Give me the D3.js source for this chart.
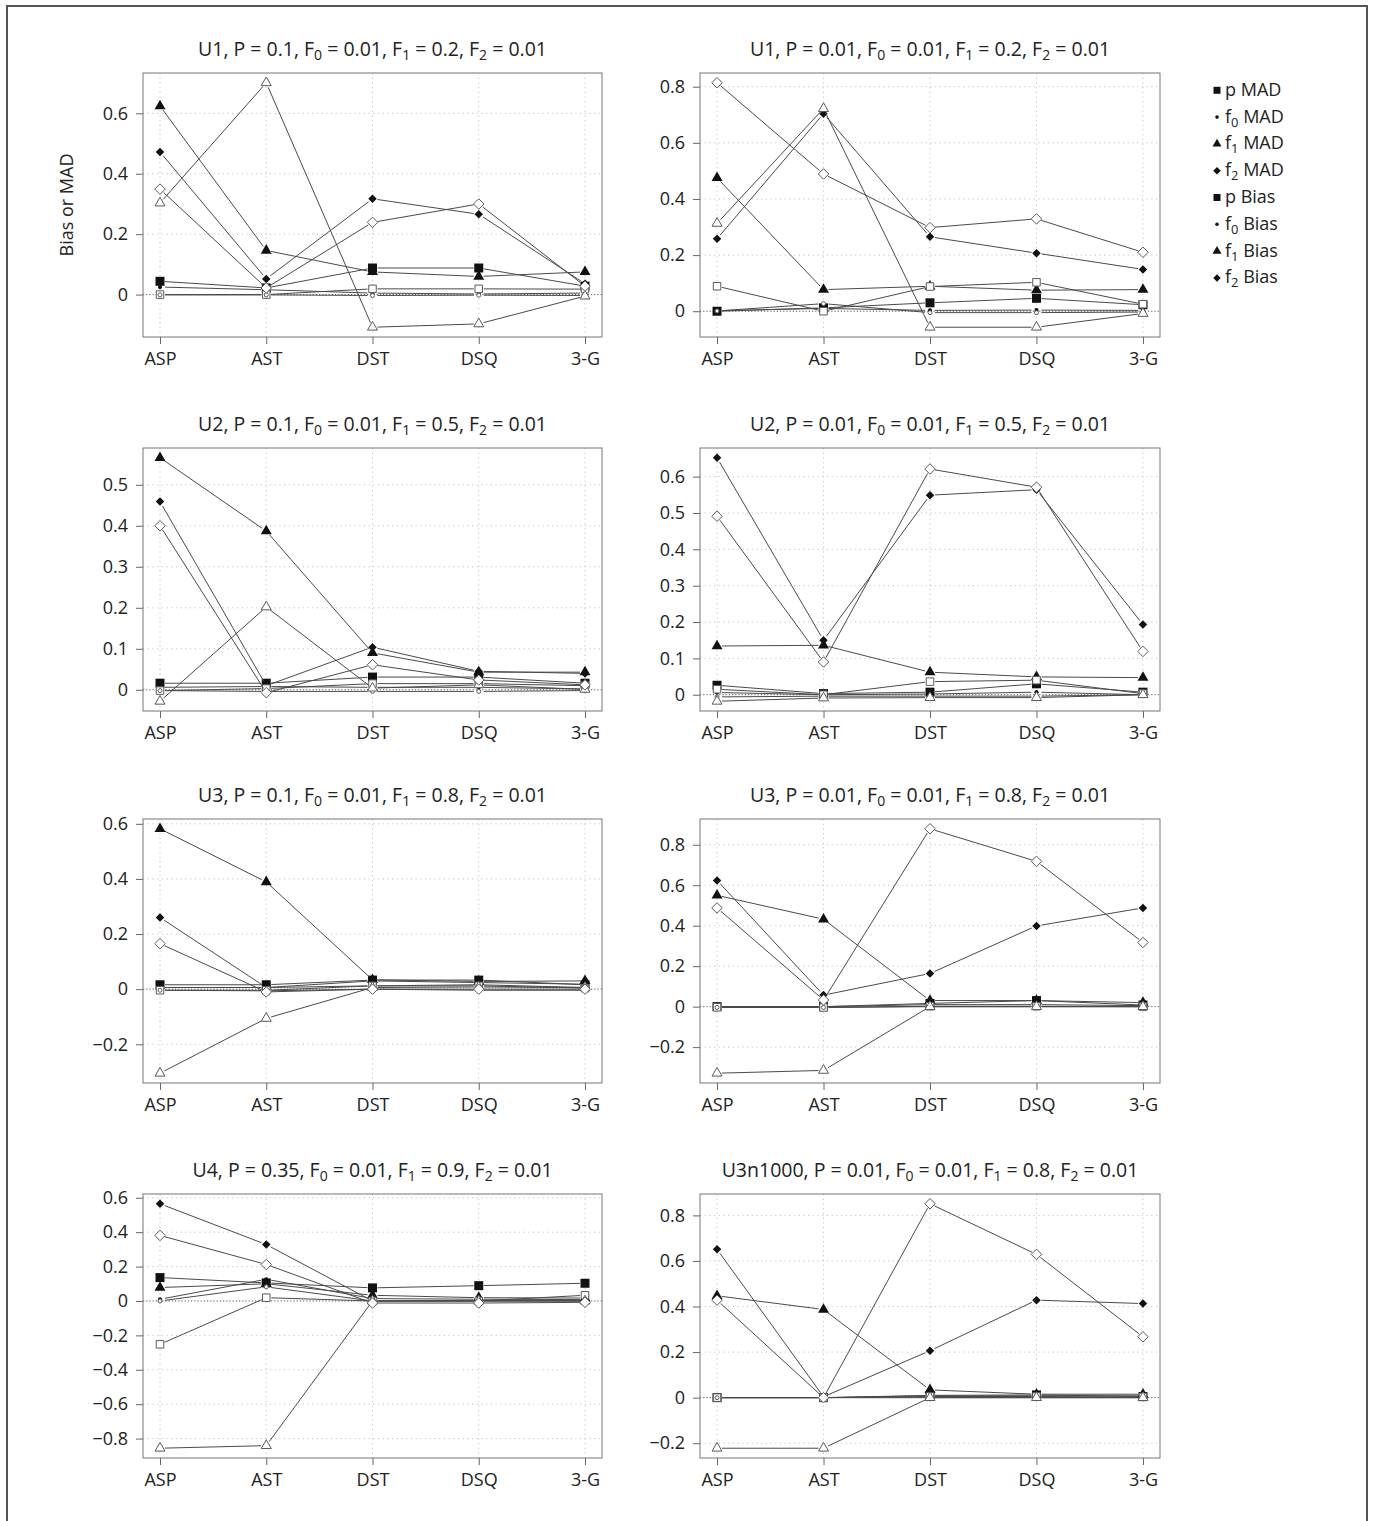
<!DOCTYPE html>
<html><head><meta charset="utf-8">
<script src="https://cdn.jsdelivr.net/npm/d3@7"></script>
<style>
body{margin:0;background:#fff}
text{font-family:"Open Sans",sans-serif;fill:#222}
</style>
</head><body>
<svg id="chart" width="1373" height="1521"></svg>
<script>
// ---------- data ----------
const categories = ["ASP","AST","DST","DSQ","3-G"];
// series order: p MAD, f0 MAD, f1 MAD, f2 MAD, p Bias, f0 Bias, f1 Bias, f2 Bias
const legendBase = ["p","f","f","f","p","f","f","f"];
const legendSub  = ["","0","1","2","","0","1","2"];
const legendTail = ["MAD","MAD","MAD","MAD","Bias","Bias","Bias","Bias"];

const panelModel = ["U1","U1","U2","U2","U3","U3","U4","U3n1000"];
const panelP     = ["0.1","0.01","0.1","0.01","0.1","0.01","0.35","0.01"];
const panelF0    = ["0.01","0.01","0.01","0.01","0.01","0.01","0.01","0.01"];
const panelF1    = ["0.2","0.2","0.5","0.5","0.8","0.8","0.9","0.8"];
const panelF2    = ["0.01","0.01","0.01","0.01","0.01","0.01","0.01","0.01"];

const u1_p010 = [
  [0.044, 0.022, 0.088, 0.088, 0.028],
  [0.025, 0.016, 0.005, 0.002, 0.005],
  [0.624, 0.146, 0.075, 0.060, 0.075],
  [0.472, 0.052, 0.317, 0.266, 0.036],
  [0.000, 0.000, 0.019, 0.019, 0.018],
  [-0.001, -0.001, -0.003, -0.002, -0.003],
  [0.303, 0.701, -0.108, -0.097, -0.005],
  [0.349, 0.022, 0.239, 0.300, 0.028]
];
const u1_p001 = [
  [0.000, 0.012, 0.030, 0.046, 0.023],
  [0.002, 0.010, 0.003, 0.004, 0.003],
  [0.475, 0.077, 0.089, 0.075, 0.077],
  [0.258, 0.704, 0.265, 0.207, 0.149],
  [0.089, 0.000, 0.088, 0.103, 0.025],
  [0.001, 0.027, -0.005, -0.005, -0.003],
  [0.313, 0.722, -0.057, -0.057, -0.008],
  [0.814, 0.489, 0.298, 0.329, 0.210]
];
const u2_p010 = [
  [0.016, 0.016, 0.031, 0.031, 0.016],
  [0.006, 0.008, 0.006, 0.006, 0.002],
  [0.566, 0.387, 0.090, 0.043, 0.043],
  [0.459, 0.010, 0.104, 0.045, 0.040],
  [-0.002, 0.003, 0.015, 0.015, 0.010],
  [-0.002, -0.004, -0.004, -0.004, -0.002],
  [-0.028, 0.202, 0.004, 0.012, 0.001],
  [0.400, -0.007, 0.061, 0.024, 0.012]
];
const u2_p001 = [
  [0.026, 0.003, 0.007, 0.030, 0.007],
  [0.006, 0.000, 0.002, 0.007, 0.000],
  [0.134, 0.136, 0.062, 0.049, 0.047],
  [0.652, 0.150, 0.549, 0.564, 0.193],
  [0.015, 0.000, 0.036, 0.040, 0.003],
  [-0.006, -0.004, -0.004, -0.004, 0.000],
  [-0.018, -0.009, -0.008, -0.008, 0.000],
  [0.491, 0.090, 0.621, 0.571, 0.119]
];
const u3_p010 = [
  [0.016, 0.016, 0.033, 0.033, 0.016],
  [0.006, 0.006, 0.012, 0.016, 0.006],
  [0.582, 0.389, 0.034, 0.028, 0.030],
  [0.260, 0.006, 0.030, 0.024, 0.018],
  [-0.004, -0.004, 0.012, 0.012, 0.004],
  [-0.004, -0.006, 0.000, -0.004, -0.004],
  [-0.305, -0.106, 0.006, 0.008, 0.006],
  [0.165, -0.010, 0.000, 0.000, 0.000]
];
const u3_p001 = [
  [0.000, 0.000, 0.016, 0.030, 0.008],
  [0.000, 0.000, 0.010, 0.010, 0.005],
  [0.550, 0.432, 0.030, 0.030, 0.020],
  [0.624, 0.057, 0.164, 0.399, 0.488],
  [-0.003, -0.004, 0.002, 0.002, 0.000],
  [-0.004, -0.004, 0.000, 0.000, 0.000],
  [-0.329, -0.315, 0.000, 0.000, 0.000],
  [0.488, 0.033, 0.879, 0.718, 0.317]
];
const u4_p035 = [
  [0.136, 0.105, 0.076, 0.089, 0.103],
  [0.010, 0.126, 0.014, 0.010, 0.008],
  [0.078, 0.100, 0.033, 0.019, 0.017],
  [0.565, 0.328, 0.000, 0.002, 0.002],
  [-0.252, 0.019, 0.000, 0.000, 0.033],
  [0.000, 0.082, 0.000, 0.000, 0.000],
  [-0.856, -0.841, 0.000, 0.000, 0.000],
  [0.381, 0.212, -0.012, -0.012, -0.008]
];
const u3n1000_p001 = [
  [0.000, 0.000, 0.010, 0.012, 0.005],
  [0.000, 0.000, 0.008, 0.008, 0.008],
  [0.447, 0.387, 0.034, 0.015, 0.015],
  [0.651, 0.004, 0.206, 0.428, 0.413],
  [0.000, 0.000, 0.005, 0.005, 0.003],
  [0.000, 0.000, 0.000, 0.000, 0.000],
  [-0.222, -0.222, 0.000, 0.000, 0.000],
  [0.428, 0.000, 0.851, 0.629, 0.267]
];

const ticks_u1_p010 = [0, 0.2, 0.4, 0.6];
const ticks_u1_p001 = [0, 0.2, 0.4, 0.6, 0.8];
const ticks_u2_p010 = [0, 0.1, 0.2, 0.3, 0.4, 0.5];
const ticks_u2_p001 = [0, 0.1, 0.2, 0.3, 0.4, 0.5, 0.6];
const ticks_u3_p010 = [-0.2, 0, 0.2, 0.4, 0.6];
const ticks_u3_p001 = [-0.2, 0, 0.2, 0.4, 0.6, 0.8];
const ticks_u4_p035 = [-0.8, -0.6, -0.4, -0.2, 0, 0.2, 0.4, 0.6];
const ticks_u3n1000_p001 = [-0.2, 0, 0.2, 0.4, 0.6, 0.8];

const panelData  = [u1_p010, u1_p001, u2_p010, u2_p001, u3_p010, u3_p001, u4_p035, u3n1000_p001];
const panelTicks = [ticks_u1_p010, ticks_u1_p001, ticks_u2_p010, ticks_u2_p001,
                    ticks_u3_p010, ticks_u3_p001, ticks_u4_p035, ticks_u3n1000_p001];

// ---------- styling / layout ----------
const shapes = ["square","dot","triangle","diamond","square","dot","triangle","diamond"];
const filled = [true,true,true,true,false,false,false,false];
const markSize = {square:[9,7.5], dot:[2.1,2], triangle:[11,10], diamond:[8.5,10.5]};

const colX = [[143,602],[700,1160]];
const rowY = [[73,337],[448,711],[819,1083],[1194,1458]];

const svg = d3.select("#chart");

// outer frame
svg.append("rect").attr("x",7).attr("y",6).attr("width",1360).attr("height",1540)
  .attr("fill","none").attr("stroke","#555").attr("stroke-width",2);

function shapePath(type, s){
  if(type==="square"){const h=s/2;return `M${-h},${-h}H${h}V${h}H${-h}Z`;}
  if(type==="triangle"){const h=s*0.866;return `M0,${-2*h/3}L${s/2},${h/3}L${-s/2},${h/3}Z`;}
  if(type==="diamond"){const r=s/2;return `M0,${-r}L${r},0L0,${r}L${-r},0Z`;}
  return d3.path().toString();
}
function fmt(v){
  if(Math.abs(v)<1e-9) return "0";
  return (v<0?"\u2212":"") + String(+Math.abs(v).toFixed(2));
}

function drawRichText(g, x, y, parts, size, anchor){
  const t = g.append("text").attr("x",x).attr("y",y).attr("text-anchor",anchor)
    .style("font-size",size+"px");
  let shifted = false;
  parts.forEach(p=>{
    const ts = t.append("tspan").text(p.t);
    if(p.sub){
      ts.attr("dy",4).style("font-size",(size*0.72)+"px");
      shifted = true;
    } else if(shifted){
      ts.attr("dy",-4);
      shifted = false;
    }
  });
  return t;
}

panelData.forEach((data, pi)=>{
  const col = pi%2, row = Math.floor(pi/2);
  const [x0,x1] = colX[col], [y0,y1] = rowY[row];
  const g = svg.append("g");

  const all = data.flat();
  const mn = d3.min(all), mx = d3.max(all), pad = (mx-mn)*0.04;
  const y = d3.scaleLinear().domain([mn-pad, mx+pad]).range([y1,y0]);
  const x = d3.scalePoint().domain(categories).range([x0,x1]).padding(0.16);
  const ticks = panelTicks[pi];

  // grid
  g.selectAll(".gy").data(ticks.filter(t=>t!==0)).enter().append("line")
    .attr("x1",x0).attr("x2",x1).attr("y1",d=>y(d)).attr("y2",d=>y(d))
    .attr("stroke","#c4c4c4").attr("stroke-dasharray","1.2,3.5");
  g.selectAll(".gx").data(categories).enter().append("line")
    .attr("x1",d=>x(d)).attr("x2",d=>x(d)).attr("y1",y0).attr("y2",y1)
    .attr("stroke","#c4c4c4").attr("stroke-dasharray","1.2,3.5");
  g.append("line").attr("x1",x0).attr("x2",x1).attr("y1",y(0)).attr("y2",y(0))
    .attr("stroke","#555").attr("stroke-dasharray","1.2,2");

  // axes
  const ya = d3.axisLeft(y).tickValues(ticks).tickFormat(fmt).tickSize(7).tickPadding(8);
  const yg = g.append("g").attr("transform",`translate(${x0},0)`).call(ya);
  const xa = d3.axisBottom(x).tickSize(7).tickPadding(8);
  const xg = g.append("g").attr("transform",`translate(0,${y1})`).call(xa);
  [yg,xg].forEach(a=>{
    a.select(".domain").remove();
    a.selectAll(".tick line").attr("stroke","#666");
    a.selectAll(".tick text").style("font-size","18px").style("font-family","'Open Sans',sans-serif").attr("fill","#222");
  });

  // series
  data.forEach((vals, si)=>{
    const pts = vals.map((v,i)=>[x(categories[i]), y(v)]);
    const gap = 5;
    for(let i=0;i<pts.length-1;i++){
      const [ax,ay]=pts[i],[bx,by]=pts[i+1];
      const dx=bx-ax, dy=by-ay, L=Math.hypot(dx,dy);
      if(L<=2*gap) continue;
      const ux=dx/L, uy=dy/L;
      g.append("line").attr("x1",ax+ux*gap).attr("y1",ay+uy*gap)
        .attr("x2",bx-ux*gap).attr("y2",by-uy*gap)
        .attr("stroke","#4a4a4a").attr("stroke-width",1);
    }
    const sh = shapes[si], f = filled[si];
    const sz = markSize[sh][f?0:1];
    pts.forEach(([px,py])=>{
      let m;
      if(sh==="dot") m = g.append("circle").attr("cx",px).attr("cy",py).attr("r",sz);
      else m = g.append("path").attr("d",shapePath(sh,sz)).attr("transform",`translate(${px},${py})`);
      if(f) m.attr("fill","#111").attr("stroke","none");
      else m.attr("fill","#fff").attr("stroke","#5a5a5a").attr("stroke-width",1);
    });
  });

  // box
  g.append("rect").attr("x",x0).attr("y",y0).attr("width",x1-x0).attr("height",y1-y0)
    .attr("fill","none").attr("stroke","#777").attr("stroke-width",1);

  // title
  drawRichText(g,(x0+x1)/2, y0-17, [
    {t:`${panelModel[pi]}, P = ${panelP[pi]}, F`},{t:"0",sub:true},
    {t:` = ${panelF0[pi]}, F`},{t:"1",sub:true},
    {t:` = ${panelF1[pi]}, F`},{t:"2",sub:true},
    {t:` = ${panelF2[pi]}`}
  ], 19.5, "middle");
});

// y axis title
svg.append("text").attr("transform","translate(66,205) rotate(-90)")
  .attr("text-anchor","middle").attr("dominant-baseline","central")
  .style("font-size","18px").text("Bias or MAD");

// legend
const lg = svg.append("g");
legendBase.forEach((b,i)=>{
  const ly = 89.3 + i*26.8;
  const sh = shapes[i];
  const lsz = {square:7, dot:1.8, triangle:9, diamond:7.5}[sh];
  if(sh==="dot") lg.append("circle").attr("cx",1217).attr("cy",ly+1).attr("r",lsz).attr("fill","#111");
  else lg.append("path").attr("d",shapePath(sh,lsz)).attr("transform",`translate(1217,${ly+1})`).attr("fill","#111");
  const parts = legendSub[i]
    ? [{t:b},{t:legendSub[i],sub:true},{t:" "+legendTail[i]}]
    : [{t:b+" "+legendTail[i]}];
  drawRichText(lg, 1225, ly+6.5, parts, 18, "start");
});
</script>
</body></html>
